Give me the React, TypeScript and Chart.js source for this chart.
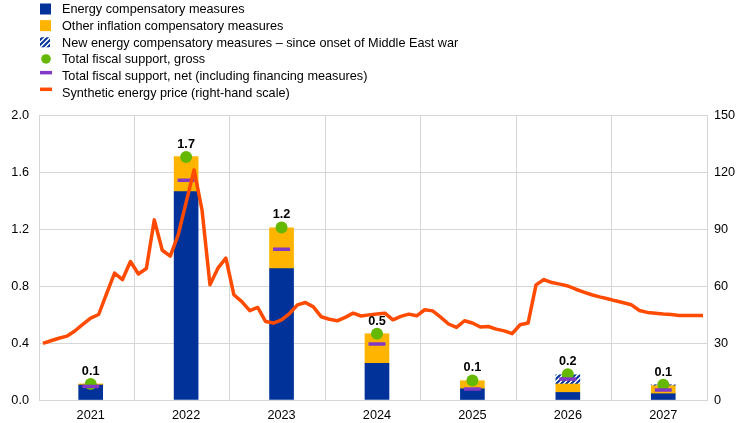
import React, { useEffect, useRef } from 'react';
import { Chart, registerables } from 'chart.js';

Chart.register(...registerables);

// ---- Data ----
const YEARS = ['2021', '2022', '2023', '2024', '2025', '2026', '2027'];
const ENERGY_MEASURES = [0.105, 1.462, 0.922, 0.257, 0.079, 0.053, 0.044];
const OTHER_MEASURES = [0.008, 0.246, 0.286, 0.208, 0.056, 0.059, 0.056];
const NEW_ENERGY_MEASURES = [null, null, null, null, null, 0.065, 0.007];
const GROSS_SUPPORT = [0.113, 1.705, 1.21, 0.465, 0.137, 0.18, 0.107];
const NET_SUPPORT = [0.095, 1.542, 1.058, 0.393, 0.077, 0.147, 0.07];
const BAR_LABELS = ['0.1', '1.7', '1.2', '0.5', '0.1', '0.2', '0.1'];
// Monthly synthetic energy price, Jan 2021 - Dec 2027 (right-hand scale)
const ENERGY_PRICE = [
  29.8, 31.2, 32.5, 33.6, 36.3, 39.8, 43.1, 45.0, 56.0, 66.8, 63.4, 72.9,
  66.3, 69.2, 94.8, 78.8, 75.7, 86.9, 104.0, 121.1, 100.0, 60.6, 69.4, 74.7,
  55.4, 51.8, 47.0, 48.7, 41.3, 40.5, 42.2, 45.5, 50.1, 51.3, 49.0, 43.8,
  42.5, 41.7, 43.5, 45.7, 44.2, 44.8, 45.3, 45.7, 42.2, 44.0, 45.2, 44.3,
  47.5, 46.9, 43.6, 40.0, 38.2, 41.7, 40.5, 38.4, 38.7, 37.3, 36.4, 34.9,
  39.6, 40.5, 60.6, 63.4, 61.8, 61.0, 60.0, 58.3, 56.8, 55.4, 54.3, 53.3,
  52.2, 51.2, 50.1, 47.1, 46.1, 45.7, 45.3, 45.0, 44.5, 44.5, 44.5, 44.5,
];
const LEFT_TICKS = { min: 0, max: 2, step: 0.4 };
const RIGHT_TICKS = { min: 0, max: 150, step: 30 };
const LEGEND_TEXTS = [
  'Energy compensatory measures',
  'Other inflation compensatory measures',
  'New energy compensatory measures \u2013 since onset of Middle East war',
  'Total fiscal support, gross',
  'Total fiscal support, net (including financing measures)',
  'Synthetic energy price (right-hand scale)',
];

// ---- Styles ----
const BLUE = '#003299';
const YELLOW = '#FFB400';
const GREEN = '#65B800';
const PURPLE = '#8139C6';
const ORANGE = '#FF4B00';
const GRID = '#d6d6d6';
const TEXT = '#000000';
const FONT_FAMILY = '"Liberation Sans", Arial, sans-serif';
const FONT_SIZE = 12.7;

const MONTHS = 12;
const MONTH_LABELS: string[] = [];
YEARS.forEach((y) => {
  for (let m = 1; m <= MONTHS; m++) MONTH_LABELS.push(`${y}-${String(m).padStart(2, '0')}`);
});
const MID_YEAR = 6;

function atMidYear(values: (number | null)[]) {
  const arr: (number | null)[] = new Array(MONTH_LABELS.length).fill(null);
  values.forEach((v, k) => {
    arr[k * MONTHS + MID_YEAR] = v;
  });
  return arr;
}

export default function App() {
  const canvasRef = useRef<HTMLCanvasElement>(null);

  useEffect(() => {
    document.body.style.margin = '0';
    const canvas = canvasRef.current;
    if (!canvas) return;

    // hatch pattern
    const pc = document.createElement('canvas');
    const P = 5;
    pc.width = P;
    pc.height = P;
    const pctx = pc.getContext('2d')!;
    pctx.fillStyle = '#ffffff';
    pctx.fillRect(0, 0, P, P);
    pctx.strokeStyle = BLUE;
    pctx.lineWidth = 2;
    pctx.beginPath();
    pctx.moveTo(-1, P + 1);
    pctx.lineTo(P + 1, -1);
    pctx.moveTo(-1, 1);
    pctx.lineTo(1, -1);
    pctx.moveTo(P - 1, P + 1);
    pctx.lineTo(P + 1, P - 1);
    pctx.stroke();
    const hatch = canvas.getContext('2d')!.createPattern(pc, 'repeat')!;

    const font = { family: FONT_FAMILY, size: FONT_SIZE };

    const legendPlugin = {
      id: 'customLegend',
      afterDraw(chart: any) {
        const ctx = chart.ctx as CanvasRenderingContext2D;
        ctx.save();
        ctx.font = `${FONT_SIZE}px ${FONT_FAMILY}`;
        ctx.textBaseline = 'alphabetic';
        ctx.textAlign = 'left';
        LEGEND_TEXTS.forEach((t, k) => {
          const base = 13.3 + 16.65 * k;
          const c = base - 4.3;
          if (k === 0 || k === 1) {
            ctx.fillStyle = k === 0 ? BLUE : YELLOW;
            ctx.fillRect(40, c - 5.5, 11, 11);
          } else if (k === 2) {
            ctx.fillStyle = hatch;
            ctx.fillRect(40, c - 5, 10, 10);
          } else if (k === 3) {
            ctx.fillStyle = GREEN;
            ctx.beginPath();
            ctx.arc(46, c, 4.8, 0, Math.PI * 2);
            ctx.fill();
          } else {
            ctx.fillStyle = k === 4 ? PURPLE : ORANGE;
            ctx.fillRect(40, c - 4.7, 12, 3.5);
          }
          ctx.fillStyle = TEXT;
          ctx.fillText(t, 62, base);
        });
        ctx.restore();
      },
    };

    const labelPlugin = {
      id: 'barLabels',
      afterDatasetsDraw(chart: any) {
        const ctx = chart.ctx as CanvasRenderingContext2D;
        const xs = chart.scales.x;
        const ys = chart.scales.y;
        ctx.save();
        ctx.font = `bold ${FONT_SIZE}px ${FONT_FAMILY}`;
        ctx.textAlign = 'center';
        ctx.textBaseline = 'middle';
        ctx.fillStyle = TEXT;
        BAR_LABELS.forEach((lab, k) => {
          const x = xs.getPixelForValue(k * MONTHS + MID_YEAR);
          const y = ys.getPixelForValue(GROSS_SUPPORT[k]) - 12.7;
          ctx.fillText(lab, x, y);
        });
        ctx.restore();
      },
    };

    const chart = new Chart(canvas, {
      type: 'bar',
      data: {
        labels: MONTH_LABELS,
        datasets: [
          {
            type: 'line',
            label: LEGEND_TEXTS[5],
            data: ENERGY_PRICE,
            yAxisID: 'y2',
            borderColor: ORANGE,
            borderWidth: 3.5,
            pointRadius: 0,
            tension: 0,
            borderJoinStyle: 'round',
            order: 0,
          } as any,
          {
            type: 'line',
            label: LEGEND_TEXTS[4],
            data: atMidYear(NET_SUPPORT),
            yAxisID: 'y',
            stack: 'net',
            showLine: false,
            pointStyle: 'line',
            pointRadius: 8.5,
            pointBorderWidth: 3.5,
            pointBorderColor: PURPLE,
            pointBackgroundColor: PURPLE,
            borderColor: PURPLE,
            order: 1,
          } as any,
          {
            type: 'line',
            label: LEGEND_TEXTS[3],
            data: atMidYear(GROSS_SUPPORT),
            yAxisID: 'y',
            stack: 'gross',
            showLine: false,
            pointStyle: 'circle',
            pointRadius: 6,
            pointBorderWidth: 0,
            pointBackgroundColor: GREEN,
            borderColor: GREEN,
            order: 2,
          } as any,
          {
            label: LEGEND_TEXTS[0],
            data: atMidYear(ENERGY_MEASURES),
            backgroundColor: BLUE,
            yAxisID: 'y',
            stack: 'bars',
            barThickness: 24,
            order: 3,
          },
          {
            label: LEGEND_TEXTS[1],
            data: atMidYear(OTHER_MEASURES),
            backgroundColor: YELLOW,
            yAxisID: 'y',
            stack: 'bars',
            barThickness: 24,
            order: 3,
          },
          {
            label: LEGEND_TEXTS[2],
            data: atMidYear(NEW_ENERGY_MEASURES),
            backgroundColor: hatch as any,
            yAxisID: 'y',
            stack: 'bars',
            barThickness: 24,
            order: 3,
          },
        ],
      },
      options: {
        animation: false,
        responsive: true,
        maintainAspectRatio: false,
        layout: { padding: { top: 115, left: 0, right: 0, bottom: 0 } },
        plugins: {
          legend: { display: false },
          tooltip: { enabled: false },
        },
        scales: {
          x: {
            type: 'category',
            offset: true,
            stacked: true,
            grid: {
              offset: true,
              drawTicks: false,
              color: (c: any) =>
                c.index === undefined || c.index % MONTHS === 0 ? GRID : 'rgba(0,0,0,0)',
            },
            border: { display: true, color: GRID },
            ticks: {
              autoSkip: false,
              maxRotation: 0,
              minRotation: 0,
              padding: 7.5,
              color: TEXT,
              font,
              callback: (_v: any, i: number) =>
                i % MONTHS === MID_YEAR ? YEARS[Math.floor(i / MONTHS)] : '',
            },
            afterFit: (s: any) => {
              s.height = 23;
            },
          },
          y: {
            position: 'left',
            stacked: true,
            min: LEFT_TICKS.min,
            max: LEFT_TICKS.max,
            grid: { color: GRID, drawTicks: false },
            border: { display: true, color: GRID },
            ticks: {
              stepSize: LEFT_TICKS.step,
              padding: 10,
              color: TEXT,
              font,
              callback: (v: any) => Number(v).toFixed(1),
            },
            afterFit: (s: any) => {
              s.width = 39;
            },
          },
          y2: {
            position: 'right',
            min: RIGHT_TICKS.min,
            max: RIGHT_TICKS.max,
            grid: { drawOnChartArea: false, drawTicks: false },
            border: { display: true, color: GRID },
            ticks: {
              stepSize: RIGHT_TICKS.step,
              padding: 7,
              color: TEXT,
              font,
            },
            afterFit: (s: any) => {
              s.width = 37;
            },
          },
        },
      } as any,
      plugins: [legendPlugin, labelPlugin],
    });

    return () => {
      chart.destroy();
    };
  }, []);

  return (
    <div style={{ position: 'absolute', left: 0, top: 0, width: 744, height: 423 }}>
      <canvas ref={canvasRef} />
    </div>
  );
}
